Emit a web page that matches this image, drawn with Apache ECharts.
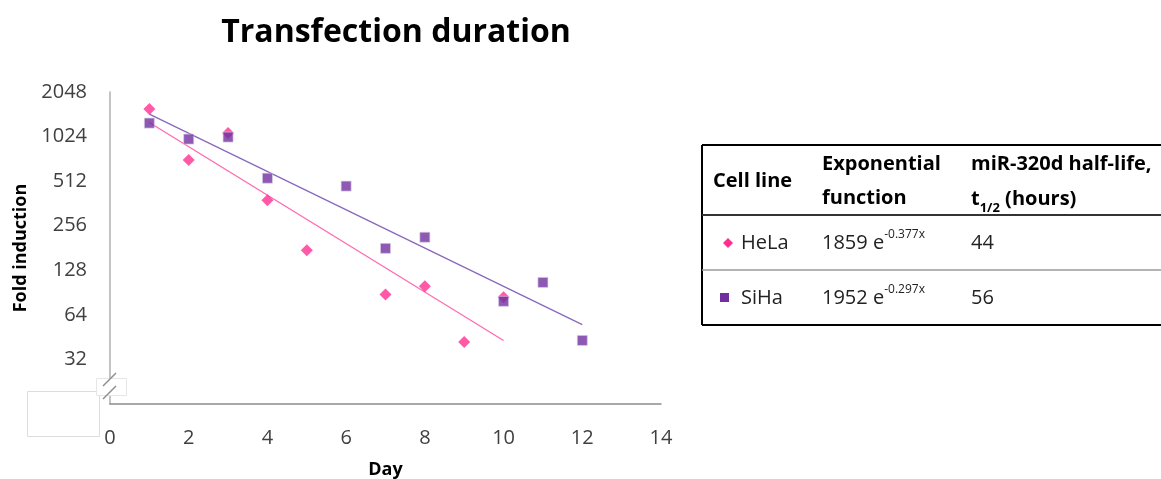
<!DOCTYPE html>
<html><head><meta charset="utf-8">
<script src="https://cdn.jsdelivr.net/npm/echarts@6/dist/echarts.min.js"></script>
<style>html,body{margin:0;padding:0;background:#fff}#c{width:1161px;height:479px}</style>
</head><body><div id="c"></div>
<script>
// ---- data ----
const helaDays = [1, 2, 3, 4, 5, 7, 8, 9, 10];
const helaFold = [1571, 710, 1082, 381, 175, 88, 100, 42, 84];
const sihaDays = [1, 2, 3, 4, 6, 7, 8, 10, 11, 12];
const sihaFold = [1263, 985, 1016, 536, 474, 180, 214, 79, 106, 43];
const helaTrendDays = [1, 10];
const helaTrendFold = [1275, 43];
const sihaTrendDays = [1, 12];
const sihaTrendFold = [1450, 55];
const yTicks = [16, 32, 64, 128, 256, 512, 1024, 2048];
const tableRows = [
  { name: 'HeLa', coef: '1859', rate: '-0.377x', half: '44' },
  { name: 'SiHa', coef: '1952', rate: '-0.297x', half: '56' }
];

const FONT = '"Open Sans"';
const PINK = '#FF2F92', PINK_LINE = '#FF6AB0';
const PURPLE = '#7030A0', PURPLE_LINE = '#8868BE';

const zip = (xs, ys) => xs.map((x, i) => [x, ys[i]]);

const chart = echarts.init(document.getElementById('c'), null, { renderer: 'canvas' });

const tableGraphics = [];
const T = { x0: 702, x1: 1163, y0: 145, yh: 215, yr: 270, y1: 325 };
tableGraphics.push(
  { type: 'line', shape: { x1: T.x0, y1: T.y0, x2: T.x1, y2: T.y0 }, style: { stroke: '#000', lineWidth: 2 } },
  { type: 'line', shape: { x1: T.x0, y1: T.y1, x2: T.x1, y2: T.y1 }, style: { stroke: '#000', lineWidth: 2 } },
  { type: 'line', shape: { x1: T.x0, y1: T.y0, x2: T.x0, y2: T.y1 }, style: { stroke: '#000', lineWidth: 2 } },
  { type: 'line', shape: { x1: T.x0, y1: T.yh, x2: T.x1, y2: T.yh }, style: { stroke: '#333', lineWidth: 2 } },
  { type: 'line', shape: { x1: T.x0, y1: T.yr, x2: T.x1, y2: T.yr }, style: { stroke: '#9a9a9a', lineWidth: 1.5 } }
);
const FS = 20;
const hdr = { fill: '#000', fontFamily: FONT, fontSize: FS, fontWeight: 'bold', verticalAlign: 'middle' };
const txt = { fill: '#222', fontFamily: FONT, fontSize: FS, verticalAlign: 'middle' };
tableGraphics.push(
  { type: 'text', x: 713, y: 181, style: Object.assign({ text: 'Cell line' }, hdr) },
  { type: 'text', x: 822, y: 164, style: Object.assign({ text: 'Exponential' }, hdr) },
  { type: 'text', x: 822, y: 198, style: Object.assign({ text: 'function' }, hdr) },
  { type: 'text', x: 971, y: 164, style: Object.assign({ text: 'miR-320d half-life,' }, hdr) },
  { type: 'text', x: 971, y: 202, style: Object.assign({
      text: '{m|t}{s|1/2}{m| (hours)}',
      rich: {
        m: { fontFamily: FONT, fontSize: FS, fontWeight: 'bold', fill: '#000', lineHeight: 26, verticalAlign: 'top' },
        s: { fontFamily: FONT, fontSize: 13, fontWeight: 'bold', fill: '#000', verticalAlign: 'bottom', lineHeight: 15 }
      } }, hdr) }
);
const rowY = [243, 298];
tableRows.forEach((r, i) => {
  const y = rowY[i];
  tableGraphics.push(
    { type: 'text', x: 741, y: y, style: Object.assign({ text: r.name }, txt) },
    { type: 'text', x: 822, y: y - 2, style: Object.assign({
        text: '{m|' + r.coef + ' e}{s|' + r.rate + '}',
        rich: {
          m: { fontFamily: FONT, fontSize: FS, fill: '#222', lineHeight: 24, verticalAlign: 'bottom' },
          s: { fontFamily: FONT, fontSize: 12, fill: '#222', verticalAlign: 'top', lineHeight: 13 }
        } }, txt) },
    { type: 'text', x: 971, y: y, style: Object.assign({ text: r.half }, txt) }
  );
});
tableGraphics.push(
  { type: 'polygon', shape: { points: [[728, 238], [733, 243], [728, 248], [723, 243]] }, style: { fill: PINK } },
  { type: 'rect', shape: { x: 720, y: 293, width: 9, height: 9 }, style: { fill: PURPLE } }
);

// axis break decorations
const breakGraphics = [
  { type: 'rect', z: 100, shape: { x: 27.5, y: 391.5, width: 72, height: 45 }, style: { fill: '#fff', stroke: '#dddddd', lineWidth: 1 } },
  { type: 'rect', z: 100, shape: { x: 96.5, y: 378.5, width: 30, height: 17 }, style: { fill: '#fff', stroke: '#e6e6e6', lineWidth: 1 } },
  { type: 'line', z: 101, shape: { x1: 103, y1: 386, x2: 116, y2: 373 }, style: { stroke: '#8c8c8c', lineWidth: 1.5 } },
  { type: 'line', z: 101, shape: { x1: 103, y1: 399, x2: 116, y2: 386 }, style: { stroke: '#8c8c8c', lineWidth: 1.5 } }
];

const option = {
  backgroundColor: '#fff',
  animation: false,
  title: {
    text: 'Transfection duration', left: 391, top: 12, textAlign: 'center',
    textStyle: { fontFamily: FONT, fontSize: 32, fontWeight: 'bold', color: '#000' }
  },
  grid: { left: 110, top: 92, right: 500, bottom: 75, containLabel: false, outerBoundsMode: 'none' },
  xAxis: {
    type: 'value', min: 0, max: 14, interval: 2,
    name: 'Day', nameLocation: 'middle', nameGap: 57,
    nameTextStyle: { fontFamily: FONT, fontSize: 18, fontWeight: 'bold', color: '#000' },
    axisLine: { lineStyle: { color: '#8c8c8c', width: 1.5 } },
    axisTick: { show: false },
    splitLine: { show: false },
    axisLabel: { fontFamily: FONT, fontSize: 20, color: '#404040', margin: 24 }
  },
  yAxis: {
    type: 'log', logBase: 2, min: yTicks[0], max: yTicks[yTicks.length - 1],
    name: 'Fold induction', nameLocation: 'middle', nameGap: 80, nameRotate: 90,
    nameTextStyle: { fontFamily: FONT, fontSize: 18, fontWeight: 'bold', color: '#000' },
    axisLine: { show: true, lineStyle: { color: '#b0b0b0', width: 1.5 } },
    axisTick: { show: false },
    splitLine: { show: false },
    axisLabel: {
      fontFamily: FONT, fontSize: 20, color: '#404040', margin: 23,
      formatter: v => (yTicks.indexOf(Math.round(v)) > 0 ? String(Math.round(v)) : '')
    }
  },
  series: [
    { type: 'line', data: zip(helaTrendDays, helaTrendFold), symbol: 'none', z: 1,
      lineStyle: { color: PINK_LINE, width: 1.3 } },
    { type: 'line', data: zip(sihaTrendDays, sihaTrendFold), symbol: 'none', z: 1,
      lineStyle: { color: PURPLE_LINE, width: 1.3 } },
    { name: 'SiHa', type: 'scatter', data: zip(sihaDays, sihaFold), symbol: 'rect', symbolSize: 10, z: 3,
      itemStyle: { color: PURPLE, borderColor: '#d8cce6', borderWidth: 0.8 } },
    { name: 'HeLa', type: 'scatter', data: zip(helaDays, helaFold), symbol: 'diamond', symbolSize: 12, z: 2,
      itemStyle: { color: PINK } }
  ],
  graphic: tableGraphics.concat(breakGraphics)
};
chart.setOption(option);
</script></body></html>
